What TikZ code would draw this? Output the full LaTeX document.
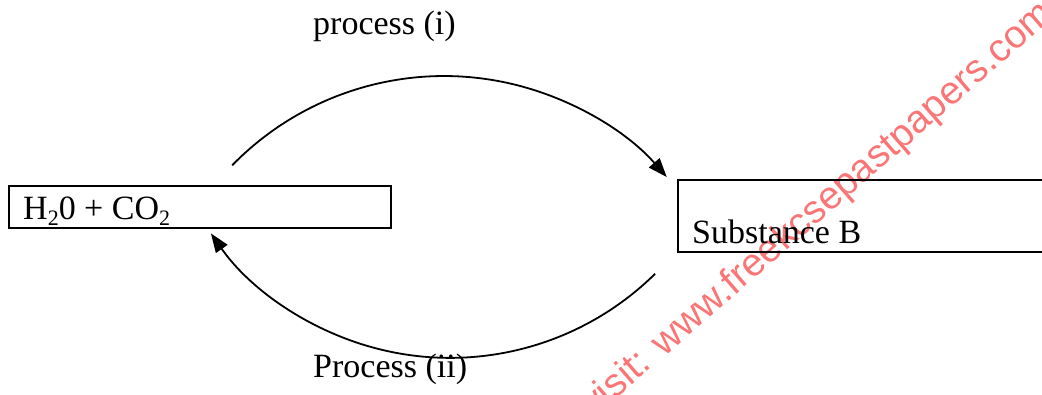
\documentclass[tikz,border=0pt]{standalone}
\usepackage{fontspec}
\setmainfont{Liberation Serif}
\newfontfamily\wmfont{Liberation Sans}
\usetikzlibrary{arrows.meta}
\definecolor{wmred}{RGB}{250,118,118}
\tikzset{
  boxshape/.style={draw, line width=1.9pt, inner sep=0pt, anchor=south west},
  lbl/.style={inner sep=0pt, anchor=base west, font=\fontsize{34}{40}\selectfont},
  conn/.style={line width=1.8pt, -{Triangle[length=19pt,width=14pt]}},
  wmark/.style={inner sep=0pt, text=wmred, font=\wmfont\fontsize{39}{44}\selectfont}
}
\newcommand{\subtwo}{\raisebox{-5.5pt}{\fontsize{22}{22}\selectfont 2}}
\begin{document}
\begin{tikzpicture}[x=1pt,y=1pt]
\useasboundingbox (0,0) rectangle (1042,394);
\node[wmark, rotate=41] (wm) at (818,184) {visit: www.freekcsepastpapers.com};
% boxes
\node[boxshape, minimum width=382pt, minimum height=42pt] (box1) at (8,165) {};
\node[boxshape, minimum width=380pt, minimum height=72pt] (box2) at (677,141) {};
% texts
\node[lbl] (t1) at (23,174) {H\subtwo0 + CO\subtwo};
\node[lbl] (t2) at (692,150) {Substance B};
\node[lbl] (p1) at (313,359) {process (i)};
\node[lbl] (p2) at (313,17) {Process (ii)};
% connectors
\coordinate (s1) at (232.2,228.7);
\coordinate (s2) at (655.1,120.2);
\draw[conn] (s1) arc[start angle=135.7, end angle=41.2, radius=296pt];
\draw[conn] (s2) arc[start angle=-45.4, end angle=-145, radius=292pt];
\end{tikzpicture}
\end{document}
